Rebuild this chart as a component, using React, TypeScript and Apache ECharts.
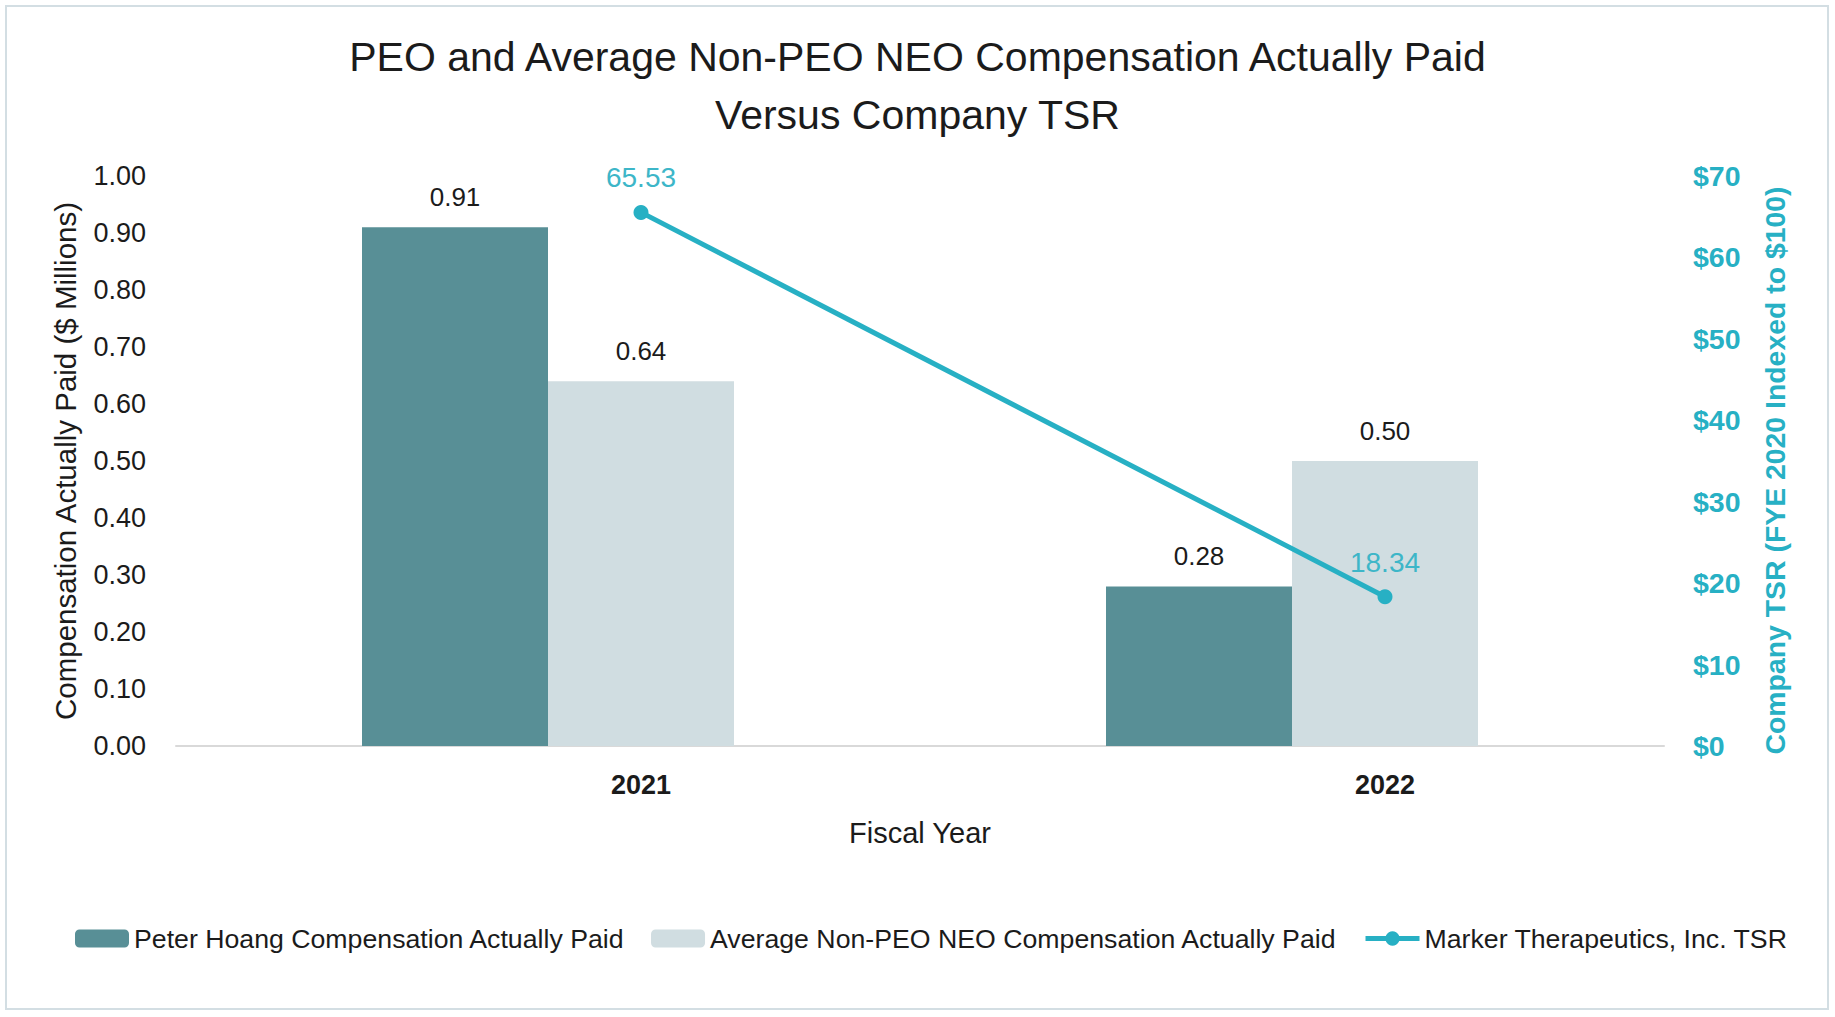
import React, { useEffect, useRef } from "react";
import * as echarts from "echarts";

const years = ["2021", "2022"];
const peoPaid = [0.91, 0.28];
const neoPaid = [0.64, 0.5];
const tsr = [65.53, 18.34];
const seriesNames = [
  "Peter Hoang Compensation Actually Paid",
  "Average Non-PEO NEO Compensation Actually Paid",
  "Marker Therapeutics, Inc. TSR",
];
const titleLines = ["PEO and Average Non-PEO NEO Compensation Actually Paid", "Versus Company TSR"];
const leftAxisName = "Compensation Actually Paid ($ Millions)";
const rightAxisName = "Company TSR (FYE 2020 Indexed to $100)";
const xAxisName = "Fiscal Year";

const FONT = "'Liberation Sans', Arial, Helvetica, sans-serif";
const TEAL = "#27b0c4";
const TEAL_TEXT = "#3db6c8";
const DARK = "#1b1b1b";

export default function App() {
  const ref = useRef<HTMLDivElement>(null);
  useEffect(() => {
    if (!ref.current) return;
    const chart = echarts.init(ref.current, undefined, { renderer: "svg" });

    // Secondary (hidden) slot axis: each year split into 4 slots, the TSR point sits on slot 3
    const slotCats: string[] = [];
    const lineData: (number | null)[] = [];
    years.forEach((y, i) => {
      slotCats.push(y + "-a", y + "-b", y, y + "-d");
      lineData.push(null, null, tsr[i], null);
    });

    const option: any = {
      animation: false,
      backgroundColor: "#ffffff",
      textStyle: { fontFamily: FONT },
      graphic: [
        {
          type: "rect",
          shape: { x: 6, y: 6, width: 1822, height: 1003 },
          style: { fill: "none", stroke: "#d3dee3", lineWidth: 2 },
          silent: true,
        },
      ],
      title: {
        text: titleLines.join("\n"),
        left: "center",
        top: 23,
        textStyle: {
          fontFamily: FONT,
          fontSize: 41,
          fontWeight: "normal",
          color: DARK,
          lineHeight: 58,
        },
      },
      legend: {
        left: 70,
        top: 920,
        itemWidth: 54,
        itemHeight: 18,
        itemGap: 26,
        lineStyle: { width: 5 },
        textStyle: { fontFamily: FONT, fontSize: 26.7, color: DARK },
        data: seriesNames,
      },
      grid: { left: 176, right: 171, top: 176, bottom: 271, containLabel: false },
      xAxis: [
        {
          type: "category",
          data: years,
          axisLine: { lineStyle: { color: "#d9d9d9", width: 2 } },
          axisTick: { show: false },
          axisLabel: { show: false },
          name: xAxisName,
          nameLocation: "middle",
          nameGap: 72,
          nameTextStyle: { fontFamily: FONT, fontSize: 29, color: DARK },
        },
        {
          type: "category",
          data: slotCats,
          position: "bottom",
          axisLine: { show: false },
          axisTick: { show: false },
          axisLabel: {
            interval: 0,
            margin: 25,
            fontFamily: FONT,
            fontSize: 27,
            fontWeight: "bold",
            color: DARK,
            formatter: (v: string) => (years.indexOf(v) >= 0 ? v : ""),
          },
        },
      ],
      yAxis: [
        {
          type: "value",
          min: 0,
          max: 1,
          interval: 0.1,
          splitLine: { show: false },
          axisLine: { show: false },
          axisTick: { show: false },
          axisLabel: {
            margin: 30,
            fontFamily: FONT,
            fontSize: 27,
            color: DARK,
            formatter: (v: number) => v.toFixed(2),
          },
          name: leftAxisName,
          nameLocation: "middle",
          nameGap: 96,
          nameTextStyle: { fontFamily: FONT, fontSize: 29.5, color: DARK },
        },
        {
          type: "value",
          min: 0,
          max: 70,
          interval: 10,
          position: "right",
          splitLine: { show: false },
          axisLine: { show: false },
          axisTick: { show: false },
          axisLabel: {
            margin: 29,
            fontFamily: FONT,
            fontSize: 28.5,
            fontWeight: "bold",
            color: TEAL,
            formatter: (v: number) => "$" + v,
          },
          name: rightAxisName,
          nameLocation: "middle",
          nameGap: 97,
          nameTextStyle: {
            fontFamily: FONT,
            fontSize: 28.4,
            fontWeight: "bold",
            color: TEAL,
            padding: [0, 19, 0, 0],
          },
        },
      ],
      series: [
        {
          name: seriesNames[0],
          type: "bar",
          xAxisIndex: 0,
          yAxisIndex: 0,
          data: peoPaid,
          barGap: "0%",
          barCategoryGap: "50%",
          itemStyle: { color: "#588f96" },
          label: {
            show: true,
            position: "top",
            distance: 17,
            fontFamily: FONT,
            fontSize: 26,
            color: DARK,
            formatter: (p: any) => Number(p.value).toFixed(2),
          },
        },
        {
          name: seriesNames[1],
          type: "bar",
          xAxisIndex: 0,
          yAxisIndex: 0,
          data: neoPaid,
          barGap: "0%",
          barCategoryGap: "50%",
          itemStyle: { color: "#d0dde1" },
          label: {
            show: true,
            position: "top",
            distance: 17,
            fontFamily: FONT,
            fontSize: 26,
            color: DARK,
            formatter: (p: any) => Number(p.value).toFixed(2),
          },
        },
        {
          name: seriesNames[2],
          type: "line",
          xAxisIndex: 1,
          yAxisIndex: 1,
          data: lineData,
          connectNulls: true,
          symbol: "circle",
          symbolSize: 15,
          lineStyle: { color: TEAL, width: 5 },
          itemStyle: { color: TEAL },
          label: {
            show: true,
            position: "top",
            distance: 13,
            fontFamily: FONT,
            fontSize: 28,
            color: TEAL_TEXT,
            formatter: (p: any) => (p.value == null ? "" : Number(p.value).toFixed(2)),
          },
        },
      ],
    };
    chart.setOption(option);
    return () => chart.dispose();
  }, []);
  return (
    <div
      ref={ref}
      style={{ position: "absolute", left: 0, top: 0, width: 1835, height: 1017, background: "#fff" }}
    />
  );
}
